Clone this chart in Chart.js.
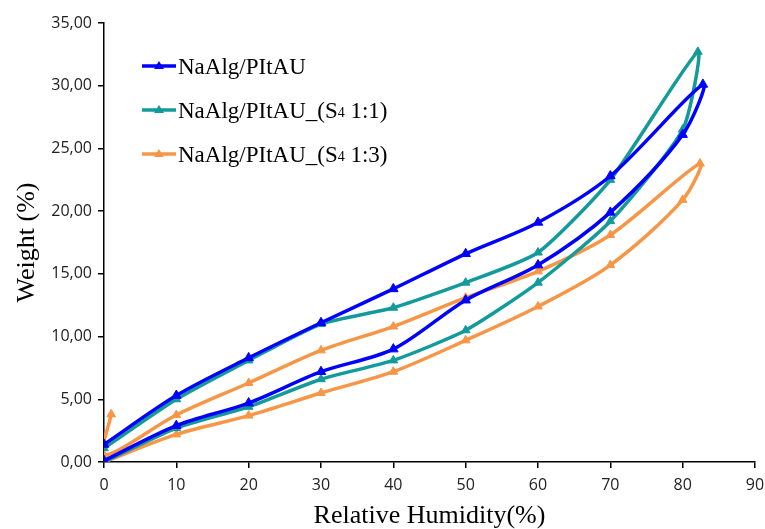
<!DOCTYPE html>
<html>
<head>
<meta charset="utf-8">
<script src="https://cdn.jsdelivr.net/npm/chart.js@4/dist/chart.umd.min.js"></script>
<style>
  html, body { margin: 0; padding: 0; background: #fff; }
  #wrap { width: 765px; height: 529px; }
</style>
</head>
<body>
<div id="wrap"><canvas id="sorption-chart" width="765" height="529"></canvas></div>
<script>
// sorption (up) then desorption (back) for each sample
var blueX = [0, 10, 20, 30, 40, 50, 60, 70, 80, 82.8, 70, 60, 50, 40, 30, 20, 10, 0];
var blueY = [0.1, 2.9, 4.7, 7.2, 9.0, 12.9, 15.7, 19.9, 26.1, 30.1, 22.8, 19.1, 16.6, 13.8, 11.1, 8.3, 5.3, 1.4];

var tealX = [0, 10, 20, 30, 40, 50, 60, 70, 80, 82.1, 70, 60, 50, 40, 30, 20, 10, 0];
var tealY = [0, 2.7, 4.4, 6.6, 8.1, 10.5, 14.3, 19.2, 26.5, 32.7, 22.5, 16.7, 14.3, 12.3, 11.0, 8.1, 5.0, 1.1];

var orangeX = [0, 10, 20, 30, 40, 50, 60, 70, 80, 82.4, 70, 60, 50, 40, 30, 20, 10, 0, 1];
var orangeY = [0, 2.2, 3.7, 5.5, 7.2, 9.7, 12.4, 15.7, 20.9, 23.8, 18.1, 15.2, 13.1, 10.8, 8.9, 6.3, 3.75, 0.55, 3.8];

var seriesLabels = ['NaAlg/PItAU', 'NaAlg/PItAU_(S4 1:1)', 'NaAlg/PItAU_(S4 1:3)'];
var seriesColors = ['#0000FF', '#139A9A', '#F79646'];

var xTicks = [0, 10, 20, 30, 40, 50, 60, 70, 80, 90];
var yTicks = [0, 5, 10, 15, 20, 25, 30, 35];

function toPoints(xs, ys) {
    return xs.map(function(x, i) { return { x: x, y: ys[i] }; });
}

function makeSet(i, xs, ys, r, t) {
    return {
        label: seriesLabels[i],
        data: toPoints(xs, ys),
        showLine: true,
        borderColor: seriesColors[i],
        backgroundColor: seriesColors[i],
        borderWidth: 3.5,
        pointStyle: 'triangle',
        pointRadius: r,
        pointBorderWidth: 1,
        tension: t
    };
}

// legend drawn inside the plot, with the small "4" like the original
var innerLegend = {
    id: 'innerLegend',
    afterDraw: function(chart) {
        var ctx = chart.ctx;
        var rows = [66, 110, 154];
        ctx.save();
        chart.data.datasets.forEach(function(ds, i) {
            var y = rows[i];
            ctx.strokeStyle = ds.borderColor;
            ctx.lineWidth = 3.5;
            ctx.beginPath();
            ctx.moveTo(142, y);
            ctx.lineTo(176, y);
            ctx.stroke();
            ctx.fillStyle = ds.borderColor;
            ctx.beginPath();
            ctx.moveTo(159, y - 5);
            ctx.lineTo(164, y + 3);
            ctx.lineTo(154, y + 3);
            ctx.closePath();
            ctx.fill();

            ctx.fillStyle = '#000';
            ctx.textBaseline = 'alphabetic';
            ctx.textAlign = 'left';
            var parts = ds.label.split('S4');
            var x = 178;
            var base = y + 8;
            ctx.font = '23px "Liberation Serif"';
            if (parts.length === 1) {
                ctx.fillText(ds.label, x, base);
            } else {
                ctx.fillText(parts[0] + 'S', x, base);
                x += ctx.measureText(parts[0] + 'S').width;
                ctx.font = '14px "Liberation Serif"';
                ctx.fillText('4', x, base - 1);
                x += ctx.measureText('4').width;
                ctx.font = '23px "Liberation Serif"';
                ctx.fillText(parts[1], x, base);
            }
        });
        ctx.restore();
    }
};

var ctx = document.getElementById('sorption-chart').getContext('2d');
var myChart = new Chart(ctx, {
    type: 'scatter',
    data: {
        datasets: [
            makeSet(0, blueX, blueY, 5.5, 0.3),
            makeSet(1, tealX, tealY, 5, 0.2),
            makeSet(2, orangeX, orangeY, 5, 0.3)
        ]
    },
    plugins: [innerLegend],
    options: {
        responsive: false,
        animation: false,
        layout: { padding: { top: 23, right: 10, left: 0, bottom: 0 } },
        elements: { line: { capBezierPoints: false } },
        plugins: {
            legend: { display: false },
            tooltip: { enabled: false }
        },
        scales: {
            x: {
                type: 'linear',
                min: 0,
                max: 90,
                afterBuildTicks: function(scale) {
                    scale.ticks = xTicks.map(function(v) { return { value: v }; });
                },
                afterFit: function(scale) {
                    scale.height = 67;
                    scale.paddingLeft = 0;
                    scale.paddingRight = 0;
                },
                grid: { display: true, drawOnChartArea: false, drawTicks: true, tickLength: 6, color: '#000', lineWidth: 1.5 },
                border: { color: '#000', width: 1.5 },
                ticks: { color: '#222', font: { family: 'Open Sans', size: 16 }, padding: 8, maxRotation: 0 },
                title: {
                    display: true,
                    text: 'Relative Humidity(%)',
                    color: '#000',
                    font: { family: 'Liberation Serif', size: 26, lineHeight: 1 },
                    padding: { top: 0, bottom: 0 }
                }
            },
            y: {
                type: 'linear',
                min: 0,
                max: 35,
                afterBuildTicks: function(scale) {
                    scale.ticks = yTicks.map(function(v) { return { value: v }; });
                },
                afterFit: function(scale) { scale.width = 104; },
                grid: { display: true, drawOnChartArea: false, drawTicks: true, tickLength: 6, color: '#000', lineWidth: 1.5 },
                border: { color: '#000', width: 1.5 },
                ticks: {
                    color: '#222',
                    font: { family: 'Open Sans', size: 16 },
                    padding: 6,
                    callback: function(v) { return v.toFixed(2).replace('.', ','); }
                },
                title: {
                    display: true,
                    text: 'Weight (%)',
                    color: '#000',
                    font: { family: 'Liberation Serif', size: 26, lineHeight: 1 },
                    padding: { top: 14, bottom: 0 }
                }
            }
        }
    }
});
</script>
</body>
</html>
